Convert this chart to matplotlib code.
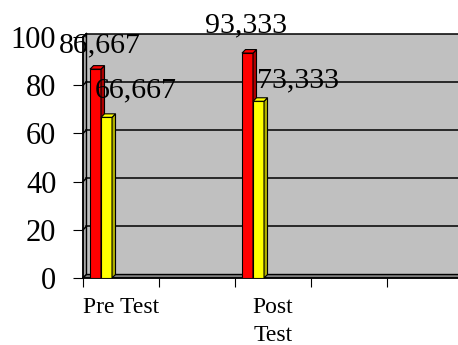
import matplotlib
matplotlib.use("Agg")
import matplotlib.pyplot as plt
from matplotlib.patches import Polygon, Rectangle

plt.rcParams['font.family'] = ['Liberation Serif', 'DejaVu Serif']

categories = ["Pre Test", "Post Test"]
series_red = [86.667, 93.333]
series_yellow = [66.667, 73.333]
y_ticks = [0, 20, 40, 60, 80, 100]

# layout
slot_pos = [0, 2]          # category slot index of each group
n_slots = 5
bar_w = 0.145
red_off = 0.092
dxd = 0.046                # 3D depth in x (data units)
dyd = 1.45                 # 3D depth in y (data units)
red_label_off = [(4, 17), (-1.5, 21)]
yel_label_off = [(29, 20), (39, 14)]

fig = plt.figure(figsize=(4.58, 3.45), dpi=100)
ax = fig.add_axes([83/458, 1 - 278/345, 380/458, 241/345])
ax.set_xlim(0, n_slots)
ax.set_ylim(0, 100)
ax.set_facecolor('none')
for s in ax.spines.values():
    s.set_visible(False)

# back wall
ax.add_patch(Rectangle((dxd, dyd), n_slots, 100, facecolor='#C0C0C0',
                       edgecolor='none', zorder=0, clip_on=False))
# left wall
ax.add_patch(Polygon([(0, 0), (dxd, dyd), (dxd, 100 + dyd), (0, 100)],
                     closed=True, facecolor='#A8A8A8', edgecolor='black',
                     lw=1.0, zorder=0.5, clip_on=False))
# floor
ax.add_patch(Polygon([(0, 0), (dxd, dyd), (n_slots + 1, dyd), (n_slots + 1, 0)],
                     closed=True, facecolor='#808080', edgecolor='black',
                     lw=1.0, zorder=0.5, clip_on=False))
# gridlines
for v in y_ticks[1:]:
    ax.plot([dxd, n_slots + 1], [v + dyd, v + dyd], color='black', lw=1.1,
            zorder=1, clip_on=False)
    ax.plot([0, dxd], [v, v + dyd], color='black', lw=1.1, zorder=1,
            clip_on=False)
ax.plot([0, 0], [0, 100], color='black', lw=1.1, zorder=1, clip_on=False)
ax.plot([0, n_slots + 1], [0, 0], color='black', lw=1.1, zorder=1, clip_on=False)


def bar3d(x0, v, face, side, label, off):
    x1 = x0 + bar_w
    ax.bar([x0], [v], width=bar_w, align='edge', color=face,
           edgecolor='black', lw=0.8, zorder=3)
    ax.add_patch(Polygon([(x1, 0), (x1 + dxd, dyd), (x1 + dxd, v + dyd), (x1, v)],
                         closed=True, facecolor=side, edgecolor='black',
                         lw=0.8, zorder=3, clip_on=False))
    ax.add_patch(Polygon([(x0, v), (x0 + dxd, v + dyd), (x1 + dxd, v + dyd), (x1, v)],
                         closed=True, facecolor=face, edgecolor='black',
                         lw=0.8, zorder=3, clip_on=False))
    ax.annotate(label, xy=(x0 + bar_w / 2, v), xytext=off,
                textcoords='offset pixels', ha='center', va='baseline',
                fontsize=21.5, color='black', zorder=5, annotation_clip=False)


def fmt(v):
    return f"{v:.3f}".replace('.', ',')


for i, s in enumerate(slot_pos):
    xr = s + red_off
    bar3d(xr, series_red[i], '#FF0000', '#B00000', fmt(series_red[i]),
          red_label_off[i])
    bar3d(xr + bar_w, series_yellow[i], '#FFFF00', '#B0B000',
          fmt(series_yellow[i]), yel_label_off[i])

ax.set_yticks(y_ticks)
ax.set_yticklabels([str(t) for t in y_ticks], fontsize=22)
ax.tick_params(axis='y', direction='out', length=7.2, width=0.8, pad=12)

ax.set_xticks(range(n_slots + 1))
ax.set_xticklabels([''] * (n_slots + 1))
ax.tick_params(axis='x', which='major', direction='out', length=6.5, width=0.8)
ax.set_xticks([s + 0.5 for s in slot_pos], minor=True)
ax.set_xticklabels(["Pre Test", "Post\nTest"], minor=True, fontsize=17,
                   linespacing=1.4)
ax.tick_params(axis='x', which='minor', length=0, pad=14)

fig.savefig('out.png', dpi=100)
